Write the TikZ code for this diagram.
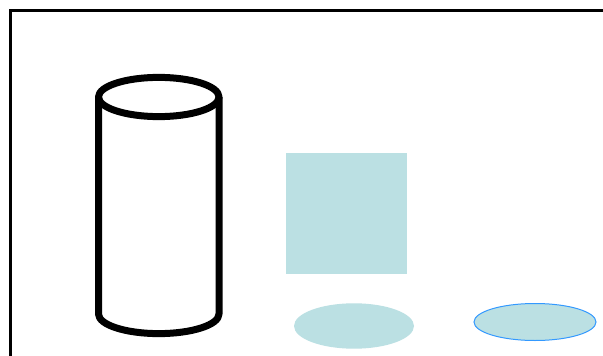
\documentclass[tikz,border=0pt]{standalone}
\definecolor{fillblue}{HTML}{BBE0E3}
\definecolor{edgeblue}{HTML}{3399FF}
\begin{document}
\begin{tikzpicture}[x=1pt,y=-1pt,
  cyl/.style={line width=7pt,black,line join=round},
  frame/.style={line width=3pt,black},
  soft/.style={fill=fillblue,draw=none}]
\useasboundingbox (0,0) rectangle (603,356);
\fill[white] (0,0) rectangle (603,356);
% frame
\draw[frame] (10.5,360) -- (10.5,10.5) -- (610,10.5);
% cylinder
\draw[cyl,fill=white] (98.5,97) -- (98.5,314) arc[start angle=180,end angle=0,x radius=60.25,y radius=19.6] -- (219,97);
\draw[cyl] (158.75,97) ellipse[x radius=60.25,y radius=19.6];
% square
\node[soft,minimum width=121pt,minimum height=121pt,inner sep=0pt,rectangle] (sq) at (346.5,213.5) {};
% ellipses
\fill[fillblue] (354,326) ellipse[x radius=60,y radius=22.7];
\draw[fill=fillblue,draw=edgeblue,line width=1pt] (535,322) ellipse[x radius=61,y radius=18.5];
\end{tikzpicture}
\end{document}
